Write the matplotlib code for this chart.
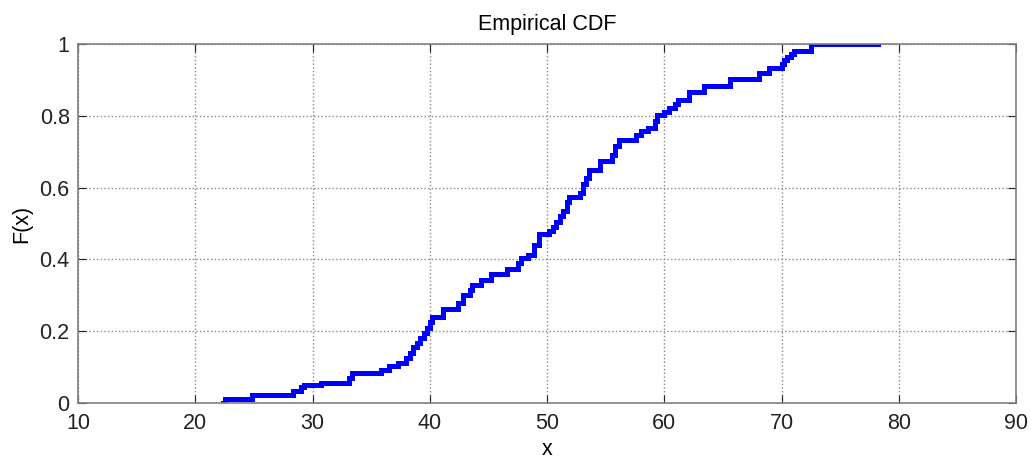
import numpy as np
import matplotlib
matplotlib.use('Agg')
import matplotlib.pyplot as plt

# 계단 위치(x)와 그 뒤의 F(x) 값
x_steps = [22.4, 22.5, 24.8, 28.3, 29.0, 29.3, 30.7, 33.1, 33.4, 35.8, 36.5, 37.3,
           38.0, 38.3, 38.6, 38.9, 39.2, 39.5, 39.8, 40.0, 40.2, 41.1, 42.4, 42.8,
           43.4, 43.6, 44.4, 45.2, 46.6, 47.5, 47.8, 48.4, 48.9, 49.3, 50.2, 50.5,
           50.8, 51.1, 51.4, 51.7, 51.9, 52.8, 53.1, 53.3, 53.6, 54.5, 55.5, 55.8,
           56.1, 57.6, 58.0, 58.6, 59.2, 59.4, 60.0, 60.4, 60.9, 61.2, 62.1, 63.4,
           65.6, 68.1, 68.9, 70.0, 70.2, 70.5, 70.8, 71.1, 72.5, 78.2]
F_levels = [0.0, 0.01, 0.022, 0.033, 0.044, 0.05, 0.057, 0.069, 0.083, 0.092, 0.102, 0.112,
            0.125, 0.14, 0.155, 0.168, 0.18, 0.194, 0.21, 0.225, 0.24, 0.262, 0.278, 0.3,
            0.315, 0.33, 0.343, 0.36, 0.372, 0.39, 0.405, 0.413, 0.44, 0.472, 0.48, 0.49,
            0.505, 0.52, 0.535, 0.56, 0.575, 0.585, 0.61, 0.628, 0.65, 0.673, 0.69, 0.715,
            0.732, 0.748, 0.757, 0.767, 0.785, 0.803, 0.81, 0.822, 0.832, 0.845, 0.866, 0.884,
            0.903, 0.92, 0.934, 0.945, 0.955, 0.963, 0.972, 0.98, 1.0, 1.0]

x_ticks = [10, 20, 30, 40, 50, 60, 70, 80, 90]
y_ticks = [0, 0.2, 0.4, 0.6, 0.8, 1]
y_ticklabels = ['0', '0.2', '0.4', '0.6', '0.8', '1']

plt.rcParams['font.family'] = ['Liberation Sans', 'DejaVu Sans']

fig = plt.figure(figsize=(10.31, 4.59), dpi=100)
ax = fig.add_axes([0.0757, 0.122, 0.9098, 0.782])

ax.step(x_steps, F_levels, where='post', color=(0, 0, 1), lw=3.6, solid_joinstyle='miter')

ax.set_xlim(10, 90)
ax.set_ylim(0, 1)
ax.set_xticks(x_ticks)
ax.set_yticks(y_ticks)
ax.set_yticklabels(y_ticklabels)
ax.tick_params(direction='in', length=6, labelsize=15.5, colors='#222222')
ax.tick_params(axis='x', pad=7)
ax.tick_params(axis='y', pad=6)
ax.tick_params(top=True, right=True)
for s in ax.spines.values():
    s.set_color('#808080')
    s.set_linewidth(1.2)
ax.grid(True, ls=':', color='#888888', lw=1)

ax.set_title('Empirical CDF', fontsize=15.5, pad=10)
ax.set_xlabel('x', fontsize=15.5, labelpad=4)
ax.set_ylabel('F(x)', fontsize=15.5, labelpad=5)

fig.savefig('out.png', dpi=100)
